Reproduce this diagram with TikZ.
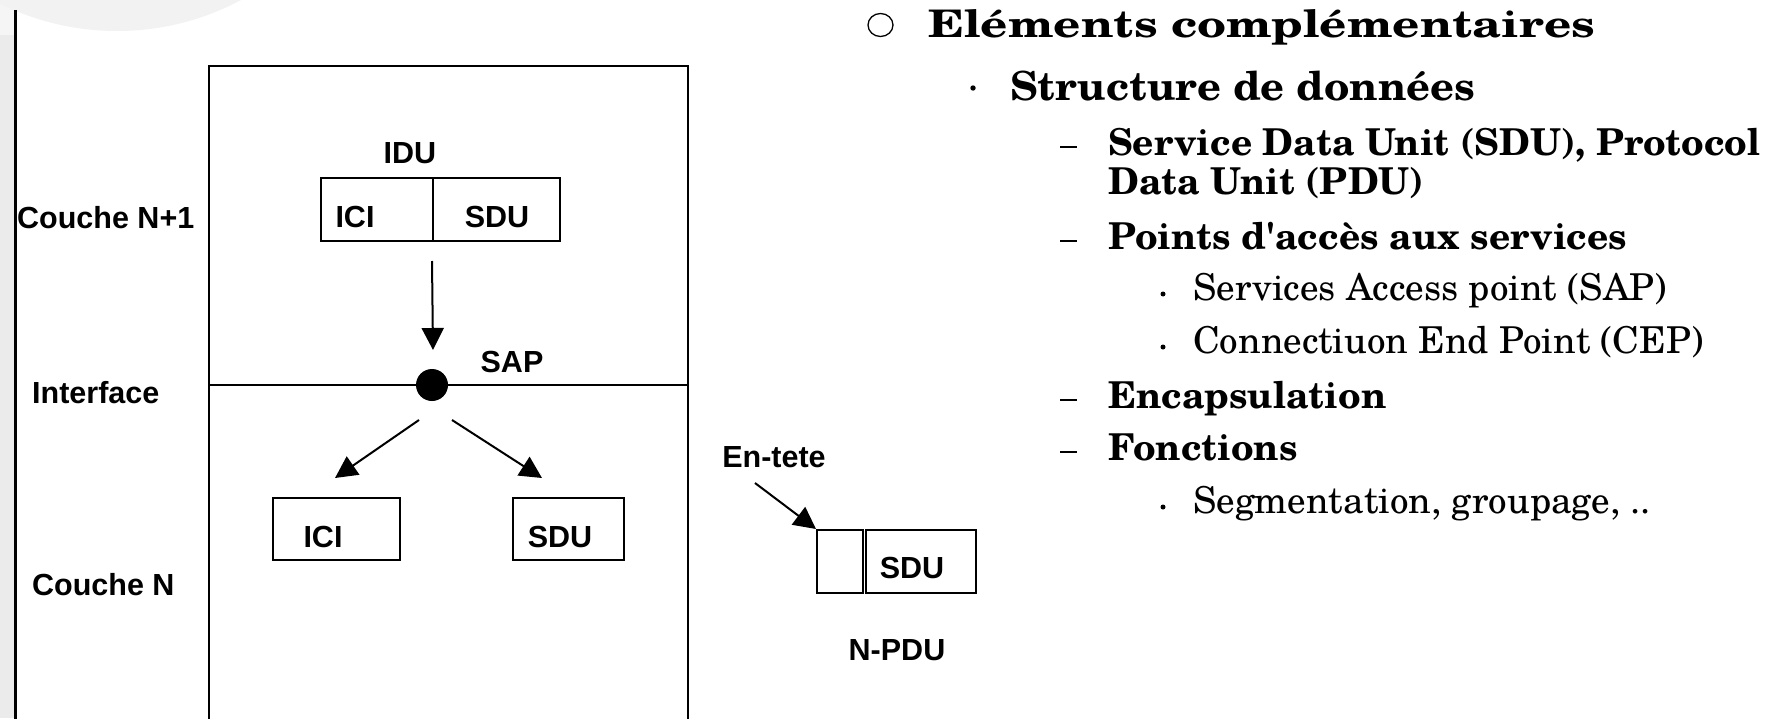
\documentclass[tikz,border=0pt]{standalone}
\usepackage{graphicx}
\usepackage{fontspec}
\newfontfamily\labelfont{Liberation Sans}
\newfontfamily\schola{texgyreschola}[Extension=.otf, UprightFont=*-regular, BoldFont=*-bold, ItalicFont=*-italic, BoldItalicFont=*-bolditalic]
\usetikzlibrary{arrows.meta}

\begin{document}
\begin{tikzpicture}[x=1pt, y=-1pt,
  lbl/.style={font={\labelfont\bfseries\fontsize{30.5pt}{36pt}\selectfont}, inner sep=0pt, anchor=base},
  lblw/.style={lbl, anchor=base west},
  frame/.style={draw, line width=2.3pt},
  cell/.style={draw, line width=2pt, inner sep=0pt},
  arr/.style={line width=2pt, -{Triangle[length=22pt, width=22pt]}},
  lvlone/.style={font={\schola\bfseries\fontsize{38pt}{44pt}\selectfont}, inner sep=0pt, anchor=base west},
  lvltwo/.style={font={\schola\bfseries\fontsize{40pt}{46pt}\selectfont}, inner sep=0pt, anchor=base west},
  lvlthree/.style={font={\schola\bfseries\fontsize{37pt}{43pt}\selectfont}, inner sep=0pt, anchor=base west},
  lvlfour/.style={font={\schola\fontsize{37pt}{43pt}\selectfont}, inner sep=0pt, anchor=base west},
  bardash/.style={line width=2pt},
]
\useasboundingbox (0,0) rectangle (1778,718);
\fill[white] (0,0) rectangle (1778,718);

% slide decoration: grey margin strip and the pale disc at the top left
\fill[black!8] (0,35) rectangle (14,718);
\fill[black!4] (0,0) rectangle (14,35);
\fill[black!5] (117,-232) circle (263);
\draw[line width=3pt] (15,10) -- (15,722);

% layer frame and the interface line
\draw[frame] (209,66) -- (209,725);
\draw[frame] (688,66) -- (688,725);
\draw[frame] (207.85,66) -- (689.15,66);
\draw[frame] (209,385) -- (688,385);

% layer labels
\node[lblw] (couche1) at (17,228) {Couche N+1};
\node[lblw] (iface) at (32,403) {Interface};
\node[lblw] (couche) at (32,595) {Couche N};

% IDU made of ICI and SDU
\node[lbl] (idu) at (410,163) {IDU};
\node[cell, minimum width=112pt, minimum height=63pt] (iduici) at (377,209.5) {};
\node[cell, minimum width=127pt, minimum height=63pt] (idusdu) at (496.5,209.5) {};
\node[lbl] (iduicit) at (355,227) {ICI};
\node[lbl] (idusdut) at (497,227) {SDU};

% service access point on the interface
\node[circle, fill=black, minimum size=32pt, inner sep=0pt] (sap) at (432,385) {};
\node[lbl] (saplbl) at (512,372) {SAP};
\coordinate (downend) at (433,350);
\draw[arr] ([yshift=-19pt]idusdu.south west) -- (downend);

% ICI and SDU separated in layer N
\node[cell, minimum width=127pt, minimum height=62pt] (ici) at (336.5,529) {};
\node[cell, minimum width=111pt, minimum height=62pt] (sdu) at (568.5,529) {};
\node[lbl] (icit) at (323,547) {ICI};
\node[lbl] (sdut) at (560,547) {SDU};
\coordinate (lstart) at (419,420);
\coordinate (lend) at (335,478);
\coordinate (rstart) at (452,420);
\coordinate (rend) at (542,478);
\draw[arr] (lstart) -- (lend);
\draw[arr] (rstart) -- (rend);

% N-PDU: header and SDU
\node[cell, minimum width=46pt, minimum height=63pt] (hdr) at (840,561.5) {};
\node[cell, minimum width=110pt, minimum height=63pt] (pdusdu) at (921,561.5) {};
\node[lbl] (pdusdut) at (912,578) {SDU};
\node[lbl] (entete) at (774,467) {En-tete};
\node[lbl] (npdu) at (897,660) {N-PDU};
\coordinate (hstart) at (755,483);
\draw[arr] (hstart) -- (hdr.north west);

% outline text
\draw[line width=1.3pt] (880.5,25) ellipse [x radius=12.5, y radius=11.5];
\node[lvlone] (t1) at (928,37) {\scalebox{1.25}[1]{Eléments complémentaires}};

\fill (973,88) circle (2.7);
\node[lvltwo] (t2) at (1010,100) {\scalebox{1.04}[1]{Structure de données}};

\draw[bardash] (1060,147) -- (1077,147);
\node[lvlthree] (t3a) at (1108,155) {Service Data Unit (SDU), Protocol};
\node[lvlthree] (t3b) at (1108,194) {Data Unit (PDU)};

\draw[bardash] (1060,241) -- (1077,241);
\node[lvlthree] (t4) at (1108,249) {Points d'accès aux services};
\fill (1163,294) circle (2.5);
\node[lvlfour] (t5) at (1193,300) {Services Access point (SAP)};
\fill (1163,347) circle (2.5);
\node[lvlfour] (t6) at (1193,353) {Connectiuon End Point (CEP)};

\draw[bardash] (1060,400) -- (1077,400);
\node[lvlthree] (t7) at (1108,408) {Encapsulation};
\draw[bardash] (1060,452) -- (1077,452);
\node[lvlthree] (t8) at (1108,460) {Fonctions};
\fill (1163,507) circle (2.5);
\node[lvlfour] (t9) at (1193,513) {Segmentation, groupage, ..};
\end{tikzpicture}
\end{document}
